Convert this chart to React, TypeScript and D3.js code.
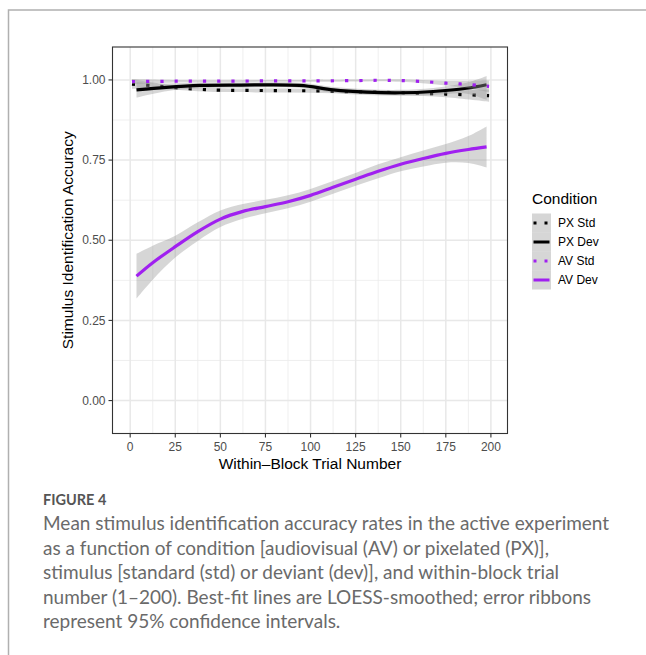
import React from 'react'
import * as d3 from 'd3'

// within-block trial number where each smoothed curve was read
const pxStdX = [1, 12.5, 25, 37.5, 50, 75, 100, 125, 150, 175, 199]
const pxStdMean = [0.987, 0.982, 0.976, 0.971, 0.968, 0.967, 0.966, 0.963, 0.960, 0.956, 0.951]
const pxStdLo = [0.972, 0.972, 0.969, 0.965, 0.962, 0.961, 0.960, 0.957, 0.953, 0.946, 0.932]
const pxStdHi = [1.002, 0.992, 0.983, 0.977, 0.974, 0.973, 0.972, 0.969, 0.967, 0.966, 0.970]

const pxDevX = [3.5, 20, 38.8, 60, 94, 112.6, 131, 149.6, 168, 186.5, 197.6]
const pxDevMean = [0.969, 0.977, 0.983, 0.984, 0.983, 0.969, 0.962, 0.960, 0.964, 0.974, 0.985]
const pxDevLo = [0.945, 0.965, 0.974, 0.976, 0.975, 0.960, 0.953, 0.951, 0.953, 0.957, 0.938]
const pxDevHi = [0.993, 0.989, 0.992, 0.992, 0.991, 0.978, 0.971, 0.969, 0.975, 0.991, 1.012]

const avStdX = [1, 25, 50, 75, 100, 125, 140, 150, 162, 175, 187, 199]
const avStdMean = [0.995, 0.996, 0.996, 0.997, 0.997, 0.998, 0.999, 0.998, 0.995, 0.990, 0.986, 0.980]
const avStdLo = [0.987, 0.992, 0.993, 0.994, 0.994, 0.995, 0.996, 0.994, 0.990, 0.983, 0.975, 0.962]
const avStdHi = [1.003, 1.000, 0.999, 1.000, 1.000, 1.001, 1.002, 1.002, 1.000, 0.997, 0.997, 0.998]

const avDevX = [3.5, 12.5, 25, 37.5, 50, 62.5, 75, 87.5, 100, 112.5, 125, 137.5, 150, 162.5, 175, 187.5, 197.6]
const avDevMean = [0.388, 0.430, 0.480, 0.527, 0.566, 0.590, 0.605, 0.620, 0.640, 0.665, 0.690, 0.715, 0.737, 0.755, 0.771, 0.783, 0.791]
const avDevLo = [0.318, 0.377, 0.446, 0.498, 0.541, 0.567, 0.584, 0.600, 0.620, 0.645, 0.670, 0.693, 0.715, 0.730, 0.742, 0.741, 0.727]
const avDevHi = [0.458, 0.483, 0.514, 0.556, 0.593, 0.613, 0.626, 0.640, 0.660, 0.685, 0.710, 0.737, 0.759, 0.780, 0.800, 0.825, 0.855]

const conditions = ['PX Std', 'PX Dev', 'AV Std', 'AV Dev']
const conditionColors = ['#000000', '#000000', '#A020F0', '#A020F0']
const conditionDotted = [true, false, true, false]

const xTicks = [0, 25, 50, 75, 100, 125, 150, 175, 200]
const yTicks = [0, 0.25, 0.5, 0.75, 1]
const xMinor = [12.5, 37.5, 62.5, 87.5, 112.5, 137.5, 162.5, 187.5]
const yMinor = [0.125, 0.375, 0.625, 0.875]

const captionTitle = 'FIGURE 4'
const captionLines = [
  'Mean stimulus identification accuracy rates in the active experiment',
  'as a function of condition [audiovisual (AV) or pixelated (PX)],',
  'stimulus [standard (std) or deviant (dev)], and within-block trial',
  'number (1\u2013200). Best-fit lines are LOESS-smoothed; error ribbons',
  'represent 95% confidence intervals.',
]

const W = 646
const H = 655
const panel = { left: 112.5, right: 507.5, top: 47, bottom: 433.5 }

const x = d3.scaleLinear().domain([-9.8, 209.2]).range([panel.left, panel.right])
const y = d3.scaleLinear().domain([-0.1027, 1.1027]).range([panel.bottom, panel.top])

const series = [
  { xs: pxStdX, mean: pxStdMean, lo: pxStdLo, hi: pxStdHi },
  { xs: pxDevX, mean: pxDevMean, lo: pxDevLo, hi: pxDevHi },
  { xs: avStdX, mean: avStdMean, lo: avStdLo, hi: avStdHi },
  { xs: avDevX, mean: avDevMean, lo: avDevLo, hi: avDevHi },
]

const sans = '"Liberation Sans", Arial, Helvetica, sans-serif'
const captionFont = 'Lato, "Open Sans", sans-serif'

export default function App() {
  const line = d3.line<number>().curve(d3.curveCatmullRom)
  const area = d3.area<number>().curve(d3.curveCatmullRom)

  const groups = series.map((s, i) => {
    const idx = s.xs.map((_, k) => k)
    const ribbon = area
      .x(k => x(s.xs[k]))
      .y0(k => y(s.lo[k]))
      .y1(k => y(s.hi[k]))(idx)
    const path = line.x(k => x(s.xs[k])).y(k => y(s.mean[k]))(idx)
    return (
      <g key={conditions[i]}>
        <path d={ribbon || ''} fill="#999999" fillOpacity={0.4} stroke="none" />
        <path
          d={path || ''}
          fill="none"
          stroke={conditionColors[i]}
          strokeWidth={3.2}
          strokeDasharray={conditionDotted[i] ? '3.2 11' : undefined}
          strokeLinecap="butt"
        />
      </g>
    )
  })

  const legendX = 532
  const legendTop = 213.5
  const keySize = 19

  return (
    <svg width={W} height={H} style={{ position: 'absolute', left: 0, top: 0 }}>
      <rect x={0} y={0} width={W} height={H} fill="#ffffff" />
      {/* page frame */}
      <path d={`M8.5,${H} V10 H${W}`} fill="none" stroke="#b0b0b0" strokeWidth={1.5} />

      {/* grid */}
      <g>
        {xMinor.map(v => (
          <line key={'xm' + v} x1={x(v)} x2={x(v)} y1={panel.top} y2={panel.bottom} stroke="#ebebeb" strokeWidth={0.8} />
        ))}
        {yMinor.map(v => (
          <line key={'ym' + v} x1={panel.left} x2={panel.right} y1={y(v)} y2={y(v)} stroke="#ebebeb" strokeWidth={0.8} />
        ))}
        {xTicks.map(v => (
          <line key={'xg' + v} x1={x(v)} x2={x(v)} y1={panel.top} y2={panel.bottom} stroke="#e8e8e8" strokeWidth={1.5} />
        ))}
        {yTicks.map(v => (
          <line key={'yg' + v} x1={panel.left} x2={panel.right} y1={y(v)} y2={y(v)} stroke="#e8e8e8" strokeWidth={1.5} />
        ))}
      </g>

      {groups}

      <rect
        x={panel.left}
        y={panel.top}
        width={panel.right - panel.left}
        height={panel.bottom - panel.top}
        fill="none"
        stroke="#333333"
        strokeWidth={1.1}
      />

      {/* axes */}
      {yTicks.map(v => (
        <g key={'yt' + v}>
          <line x1={panel.left - 4} x2={panel.left} y1={y(v)} y2={y(v)} stroke="#333333" strokeWidth={1.1} />
          <text x={panel.left - 7} y={y(v) + 4.2} textAnchor="end" fontFamily={sans} fontSize={12} fill="#4d4d4d">
            {d3.format('.2f')(v)}
          </text>
        </g>
      ))}
      {xTicks.map(v => (
        <g key={'xt' + v}>
          <line x1={x(v)} x2={x(v)} y1={panel.bottom} y2={panel.bottom + 4} stroke="#333333" strokeWidth={1.1} />
          <text x={x(v)} y={panel.bottom + 17.5} textAnchor="middle" fontFamily={sans} fontSize={12} fill="#4d4d4d">
            {v}
          </text>
        </g>
      ))}
      <text
        x={(panel.left + panel.right) / 2}
        y={468.5}
        textAnchor="middle"
        fontFamily={sans}
        fontSize={15.5}
        fill="#000"
      >
        Within{'\u2013'}Block Trial Number
      </text>
      <text
        transform={`translate(73,${(panel.top + panel.bottom) / 2}) rotate(-90)`}
        textAnchor="middle"
        fontFamily={sans}
        fontSize={15.5}
        fill="#000"
      >
        Stimulus Identification Accuracy
      </text>

      {/* legend */}
      <text x={legendX} y={204} fontFamily={sans} fontSize={15.5} fill="#000">
        Condition
      </text>
      {conditions.map((c, i) => {
        const ky = legendTop + i * keySize
        return (
          <g key={'lg' + c}>
            <rect x={legendX} y={ky} width={keySize} height={keySize} fill="#999999" fillOpacity={0.4} />
            <line
              x1={legendX + 1.5}
              x2={legendX + keySize - 1.5}
              y1={ky + keySize / 2}
              y2={ky + keySize / 2}
              stroke={conditionColors[i]}
              strokeWidth={3}
              strokeDasharray={conditionDotted[i] ? '3 8' : undefined}
            />
            <text x={legendX + keySize + 7} y={ky + keySize / 2 + 4.3} fontFamily={sans} fontSize={12} fill="#000">
              {c}
            </text>
          </g>
        )
      })}

      {/* caption */}
      <text x={43} y={505} fontFamily={captionFont} fontWeight={700} fontSize={14.5} fill="#555555">
        {captionTitle}
      </text>
      {captionLines.map((t, i) => (
        <text key={'cap' + i} x={43} y={530 + i * 24.5} fontFamily={captionFont} fontSize={19} fill="#6a6a6a">
          {t}
        </text>
      ))}
    </svg>
  )
}
